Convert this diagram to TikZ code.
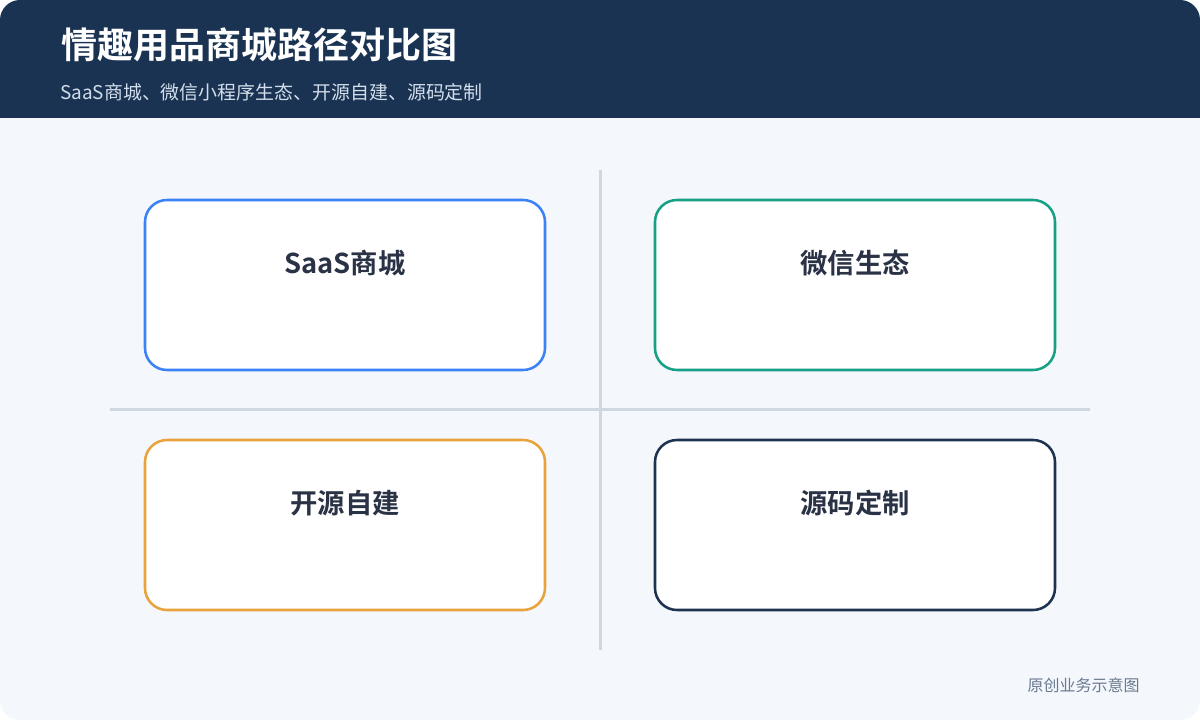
\documentclass[tikz,border=0pt]{standalone}
\usepackage{fontspec}
\setmainfont{Noto Sans CJK SC}
\newfontfamily\cjkbold{Noto Sans CJK SC Bold}
\definecolor{hdr}{HTML}{1A3352}
\definecolor{bgc}{HTML}{F4F7FC}
\definecolor{subc}{HTML}{D3DEEC}
\definecolor{divc}{HTML}{CFD7E2}
\definecolor{cblue}{HTML}{3B82F6}
\definecolor{cteal}{HTML}{16A085}
\definecolor{corange}{HTML}{E8A33D}
\definecolor{cnavy}{HTML}{1E3350}
\definecolor{ttl}{HTML}{2A3245}
\definecolor{footc}{HTML}{6B7A90}
\tikzset{
  x=0.75pt, y=-0.75pt,
  card/.style={draw=#1, line width=1.9pt, fill=white, rounded corners=16.5pt},
  cardtitle/.style={font=\cjkbold\fontsize{20.5pt}{23pt}\selectfont, text=ttl, anchor=center},
  divider/.style={draw=divc, line width=2.25pt},
}
\begin{document}
\begin{tikzpicture}
\useasboundingbox (0,0) rectangle (1200,720);
\fill[white] (0,0) rectangle (1200,720);
\begin{scope}
\clip[rounded corners=15pt] (0,0) rectangle (1200,720);
\fill[bgc] (0,0) rectangle (1200,720);
\fill[hdr] (0,0) rectangle (1200,118);
\end{scope}
\node[anchor=west, text=white, font=\cjkbold\fontsize{27pt}{31pt}\selectfont, inner sep=0pt] (title) at (61,45) {情趣用品商城路径对比图};
\node[anchor=west, text=subc, font=\fontsize{14.2pt}{17pt}\selectfont, inner sep=0pt] (subtitle) at (60,92) {SaaS商城、微信小程序生态、开源自建、源码定制};
\coordinate (vtop) at (600,170);
\coordinate (vbot) at (600,650);
\coordinate (hl) at (110,409);
\coordinate (hr) at (1090,409);
\draw[divider] (vtop) -- (vbot);
\draw[divider] (hl) -- (hr);
\draw[card=cblue] (145,200) rectangle (545,370);
\draw[card=cteal] (655,200) rectangle (1055,370);
\draw[card=corange] (145,440) rectangle (545,610);
\draw[card=cnavy] (655,440) rectangle (1055,610);
\node[cardtitle] (t1) at (345,263) {SaaS商城};
\node[cardtitle] (t2) at (855,263) {微信生态};
\node[cardtitle] (t3) at (345,503) {开源自建};
\node[cardtitle] (t4) at (855,503) {源码定制};
\node[anchor=east, text=footc, font=\fontsize{12pt}{14pt}\selectfont, inner sep=0pt] (foot) at (1140,685) {原创业务示意图};
\end{tikzpicture}
\end{document}
